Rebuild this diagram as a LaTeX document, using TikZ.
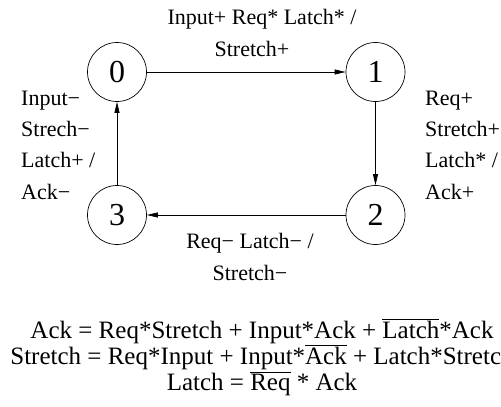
\documentclass[tikz,border=0pt]{standalone}
\usepackage{fontspec}
\setmainfont{Liberation Serif}
\usetikzlibrary{arrows.meta}

\tikzset{
    stnode/.style={draw, circle, minimum size=59pt, inner sep=0pt, line width=0.7pt,
        font=\fontsize{32}{36}\selectfont},
    trans/.style={-{Triangle[length=11pt,width=5pt]}, line width=0.7pt},
    lbl/.style={inner sep=0pt, font=\fontsize{22}{31.3}\selectfont},
    eqn/.style={inner sep=0pt, anchor=base, font=\fontsize{25}{28}\selectfont}
}

\begin{document}
\begin{tikzpicture}[x=1pt, y=-1pt]
    \useasboundingbox (0,0) rectangle (501,407);

    % Gli stati della macchina
    \foreach \n/\x/\y in {0/117/72, 1/375.5/72, 2/375.5/215, 3/117/215} {
        \node[stnode] (s\n) at (\x,\y) {\n};
    }

    % Le transizioni tra gli stati
    \draw[trans] (s0) -- (s1);
    \draw[trans] (s1) -- (s2);
    \draw[trans] (s2) -- (s3);
    \draw[trans] (s3) -- (s0);

    % Etichette delle transizioni
    \node[lbl, align=center] (l01) at (262,33) {Input+ Req* Latch* /\\Stretch+\hspace*{20pt}};
    \node[lbl, align=left, anchor=west] (l12) at (425,145) {Req+\\Stretch+\\Latch* /\\Ack+};
    \node[lbl, align=center] (l23) at (250,257) {Req− Latch− /\\Stretch−};
    \node[lbl, align=left, anchor=west] (l30) at (21,145) {Input−\\Strech−\\Latch+ /\\Ack−};

    % Equazioni delle uscite
    \node[eqn] (eqack) at (262,338) {Ack = Req*Stretch + Input*Ack + $\overline{\mbox{Latch}}$*Ack};
    \node[eqn] (eqstr) at (262,364) {Stretch = Req*Input + Input*$\overline{\mbox{Ack}}$ + Latch*Stretch};
    \node[eqn] (eqlat) at (262,390) {Latch = $\overline{\mbox{Req}}$ * Ack};
\end{tikzpicture}
\end{document}
